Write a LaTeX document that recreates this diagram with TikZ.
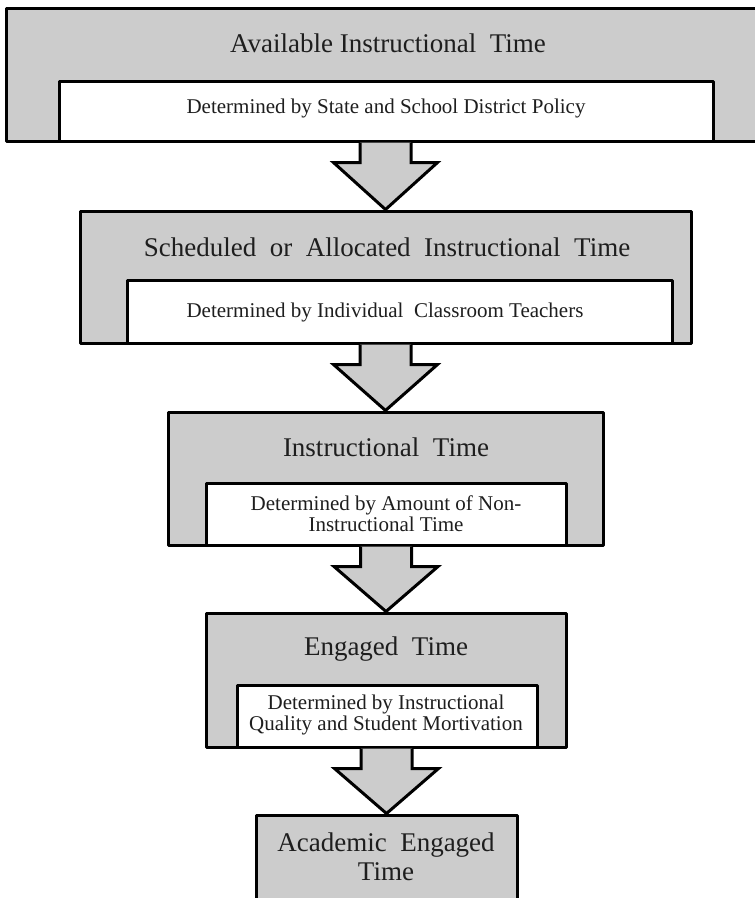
\documentclass[tikz,border=0pt]{standalone}
\usepackage{fontspec}
\setmainfont{Liberation Serif}
\usetikzlibrary{calc}

\definecolor{boxgray}{RGB}{204,204,204}
\definecolor{inkgray}{RGB}{30,30,30}

\tikzset{
  stage/.style={draw=black, fill=boxgray, line width=3pt, line join=round,
    rectangle, inner sep=0pt},
  note/.style={draw=black, fill=white, line width=3pt, line join=round,
    rectangle, inner sep=0pt},
  titletext/.style={font=\fontsize{27}{29}\selectfont, text=inkgray, align=center, inner sep=0pt},
  notetext/.style={font=\fontsize{21}{21}\selectfont, text=inkgray, align=center, inner sep=0pt},
  flow/.style={draw=black, fill=boxgray, line width=3pt, line join=miter}
}

% block arrow from the bottom of one stage to the top of the next
\newcommand\flowarrow[2]{%
  \coordinate (#1top) at ($(#1.south -| #2.north)$);
  \draw[flow] ($(#1top)+(-25.5,0)$) -- ++(0,20) -- ++(-26.5,0)
    -- (#2.north) -- ($(#1top)+(52,20)$) -- ++(-26.5,0) -- ($(#1top)+(25.5,0)$);
}

\begin{document}
\begin{tikzpicture}[x=1pt,y=-1pt]
  \useasboundingbox (0,0) rectangle (755,898);
  \clip (0,0) rectangle (755,898);

  % stages, each with its determining factor in a white panel
  \node[stage, minimum width=769pt, minimum height=133pt] (b1) at (390.5,74.5) {};
  \node[note, minimum width=654pt, minimum height=60pt] (w1) at (386,111) {};
  \node[titletext] (t1) at (388,43) {Available Instructional\ \ Time};
  \node[notetext] (s1) at (386,108) {Determined by State and School District Policy};

  \node[stage, minimum width=611pt, minimum height=132pt] (b2) at (385.5,277) {};
  \node[note, minimum width=545pt, minimum height=63pt] (w2) at (399.5,311.5) {};
  \node[titletext] (t2) at (387,247) {Scheduled\ \ or\ \ Allocated\ \ Instructional\ \ Time};
  \node[notetext] (s2) at (385,312) {Determined by Individual\ \ Classroom Teachers};

  \node[stage, minimum width=435pt, minimum height=133pt] (b3) at (385.5,478.5) {};
  \node[note, minimum width=360pt, minimum height=62pt] (w3) at (386,514) {};
  \node[titletext] (t3) at (386,447) {Instructional\ \ Time};
  \node[notetext] (s3) at (386,514) {Determined by Amount of Non-\\Instructional Time};

  \node[stage, minimum width=360pt, minimum height=134pt] (b4) at (386,680) {};
  \node[note, minimum width=300pt, minimum height=62pt] (w4) at (387,716) {};
  \node[titletext] (t4) at (386,649) {Engaged\ \ Time};
  \node[notetext] (s4) at (386,715) {Determined by Instructional\\Quality and Student Mortivation};

  \node[stage, minimum width=261pt, minimum height=100pt] (b5) at (386.5,865) {};
  \node[titletext] (t5) at (386,857) {Academic\ \ Engaged\\Time};

  % arrows between stages
  \flowarrow{b1}{b2}
  \flowarrow{b2}{b3}
  \flowarrow{b3}{b4}
  \flowarrow{b4}{b5}
\end{tikzpicture}
\end{document}
